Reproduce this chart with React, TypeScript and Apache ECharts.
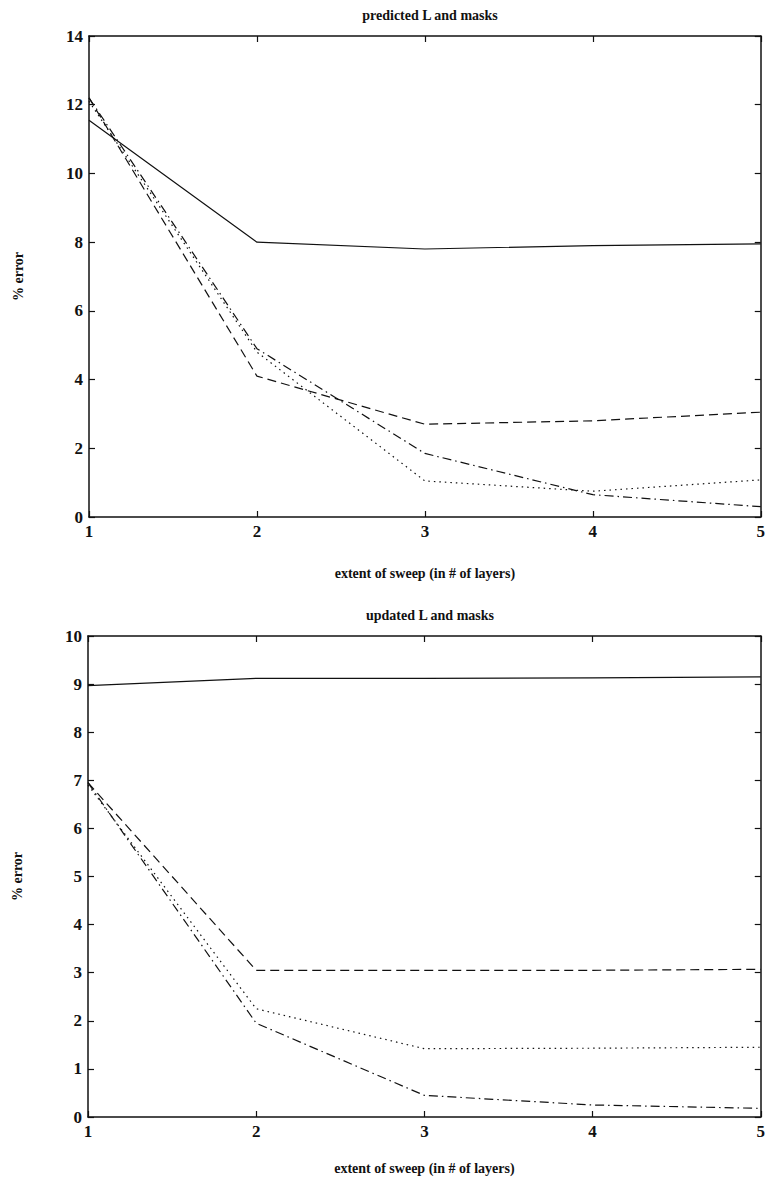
import React, { useEffect, useRef } from "react";
import * as echarts from "echarts";

const xCategories = [1, 2, 3, 4, 5];

// Top panel: predicted L and masks
const topSolid = [11.55, 8.0, 7.8, 7.9, 7.95];
const topDashed = [12.2, 4.1, 2.7, 2.8, 3.05];
const topDotted = [12.1, 4.8, 1.05, 0.75, 1.08];
const topDashDot = [12.2, 4.9, 1.85, 0.65, 0.3];

// Bottom panel: updated L and masks
const botSolid = [8.97, 9.12, 9.12, 9.13, 9.15];
const botDashed = [6.95, 3.05, 3.05, 3.05, 3.07];
const botDotted = [6.9, 2.25, 1.42, 1.43, 1.45];
const botDashDot = [6.95, 1.95, 0.45, 0.25, 0.18];

const topTitle = "predicted L and masks";
const bottomTitle = "updated L and masks";
const xName = "extent of sweep (in # of layers)";
const yName = "% error";

const FONT = "Liberation Serif";
const INK = "#111";

export default function App() {
  const ref = useRef<HTMLDivElement>(null);
  useEffect(() => {
    if (!ref.current) return;
    const chart = echarts.init(ref.current, null, { renderer: "svg" });
    const pair = (xs: number[], ys: number[]) => xs.map((x, i) => [x, ys[i]]);
    const styles: any[] = ["solid", [9, 5], [1.5, 4], [9, 4, 1.5, 4]];
    const mkSeries = (data: number[][], i: number, grid: number) => ({
      type: "line",
      xAxisIndex: grid * 2,
      yAxisIndex: grid * 2,
      data,
      symbol: "none",
      silent: true,
      lineStyle: { color: INK, width: 1.2, type: styles[i] },
    });
    const xAxisBase = (gridIndex: number, position: string, show: boolean, nameGap: number) => ({
      type: "value",
      gridIndex,
      position,
      min: 1,
      max: 5,
      interval: 1,
      name: show ? xName : "",
      nameLocation: "middle",
      nameGap,
      nameTextStyle: { fontFamily: FONT, fontWeight: "bold", fontSize: 14, color: INK },
      axisLine: { show: true, onZero: false, lineStyle: { color: INK, width: 1.5 } },
      axisTick: { show: true, inside: true, length: 6, lineStyle: { color: INK, width: 1.2 } },
      axisLabel: { show, margin: 6, fontFamily: FONT, fontWeight: "bold", fontSize: 17, color: INK },
      splitLine: { show: false },
    });
    const yAxisBase = (gridIndex: number, position: string, show: boolean, max: number, interval: number) => ({
      type: "value",
      gridIndex,
      position,
      min: 0,
      max,
      interval,
      name: show ? yName : "",
      nameLocation: "middle",
      nameGap: 64,
      nameTextStyle: { fontFamily: FONT, fontWeight: "bold", fontSize: 14, color: INK },
      axisLine: { show: true, onZero: false, lineStyle: { color: INK, width: 1.5 } },
      axisTick: { show: true, inside: true, length: 6, lineStyle: { color: INK, width: 1.2 } },
      axisLabel: { show, margin: 6, fontFamily: FONT, fontWeight: "bold", fontSize: 17, color: INK },
      splitLine: { show: false },
    });
    chart.setOption({
      animation: false,
      backgroundColor: "#fff",
      title: [
        {
          text: topTitle,
          left: 425,
          top: 3,
          textAlign: "center",
          textStyle: { fontFamily: FONT, fontWeight: "bold", fontSize: 14, color: INK },
        },
        {
          text: bottomTitle,
          left: 425,
          top: 603,
          textAlign: "center",
          textStyle: { fontFamily: FONT, fontWeight: "bold", fontSize: 14, color: INK },
        },
      ],
      grid: [
        { left: 89, right: 6, top: 36, height: 481 },
        { left: 88, right: 6, top: 636, height: 481 },
      ],
      xAxis: [
        xAxisBase(0, "bottom", true, 49),
        xAxisBase(0, "top", false, 49),
        xAxisBase(1, "bottom", true, 44),
        xAxisBase(1, "top", false, 44),
      ],
      yAxis: [
        yAxisBase(0, "left", true, 14, 2),
        yAxisBase(0, "right", false, 14, 2),
        yAxisBase(1, "left", true, 10, 1),
        yAxisBase(1, "right", false, 10, 1),
      ],
      series: [
        mkSeries(pair(xCategories, topSolid), 0, 0),
        mkSeries(pair(xCategories, topDashed), 1, 0),
        mkSeries(pair(xCategories, topDotted), 2, 0),
        mkSeries(pair(xCategories, topDashDot), 3, 0),
        mkSeries(pair(xCategories, botSolid), 0, 1),
        mkSeries(pair(xCategories, botDashed), 1, 1),
        mkSeries(pair(xCategories, botDotted), 2, 1),
        mkSeries(pair(xCategories, botDashDot), 3, 1),
      ],
    });
    return () => chart.dispose();
  }, []);
  return (
    <div
      ref={ref}
      style={{ position: "absolute", left: 0, top: 0, width: 768, height: 1185, background: "#fff" }}
    />
  );
}
